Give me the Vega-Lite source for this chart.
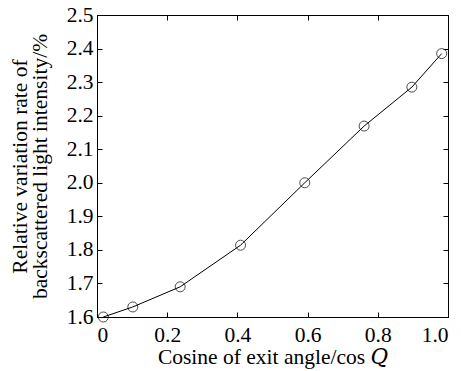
{
  "$schema": "https://vega.github.io/schema/vega-lite/v6.json",
  "width": 351,
  "height": 302,
  "autosize": "none",
  "padding": {"left": 97, "top": 15, "right": 13, "bottom": 54},
  "background": "white",
  "config": {
    "view": {"stroke": "black", "strokeWidth": 1},
    "font": "Liberation Serif",
    "axis": {
      "domainColor": "black",
      "tickColor": "black",
      "labelColor": "black",
      "titleColor": "black",
      "labelFont": "Liberation Serif",
      "titleFont": "Liberation Serif, DejaVu Serif",
      "labelFontSize": 21.5,
      "titleFontSize": 21.5,
      "titleFontWeight": "normal",
      "grid": false,
      "tickSize": -5
    }
  },
  "data": {
    "values": [
      {"cosQ": 0.018, "rate": 1.600},
      {"cosQ": 0.102, "rate": 1.630},
      {"cosQ": 0.237, "rate": 1.690},
      {"cosQ": 0.409, "rate": 1.814},
      {"cosQ": 0.592, "rate": 2.000},
      {"cosQ": 0.761, "rate": 2.169},
      {"cosQ": 0.897, "rate": 2.285},
      {"cosQ": 0.982, "rate": 2.385}
    ]
  },
  "encoding": {
    "x": {
      "field": "cosQ",
      "type": "quantitative",
      "scale": {"domain": [0, 1], "nice": false, "zero": false}
    },
    "y": {
      "field": "rate",
      "type": "quantitative",
      "scale": {"domain": [1.6, 2.5], "nice": false, "zero": false}
    }
  },
  "layer": [
    {
      "mark": {"type": "line", "color": "black", "strokeWidth": 1},
      "encoding": {
        "x": {
          "field": "cosQ",
          "type": "quantitative",
          "axis": {
            "orient": "bottom",
            "values": [0, 0.2, 0.4, 0.6, 0.8, 1.0],
            "labelExpr": "datum.value == 0 ? '0' : format(datum.value, '.1f')",
            "labelPadding": 12,
            "title": "Cosine of exit angle/cos 𝑄",
            "titlePadding": 1
          }
        },
        "y": {
          "field": "rate",
          "type": "quantitative",
          "axis": {
            "orient": "left",
            "values": [1.6, 1.7, 1.8, 1.9, 2.0, 2.1, 2.2, 2.3, 2.4, 2.5],
            "format": ".1f",
            "labelPadding": 9,
            "title": ["Relative variation rate of", "backscattered light intensity/%"],
            "titleLineHeight": 20,
            "titlePadding": 15
          }
        }
      }
    },
    {
      "mark": {"type": "point", "shape": "circle", "filled": false, "color": "black", "strokeWidth": 1, "size": 100},
      "encoding": {
        "x": {
          "field": "cosQ",
          "type": "quantitative",
          "axis": {"orient": "top", "values": [0, 0.2, 0.4, 0.6, 0.8, 1.0], "labels": false, "title": null}
        },
        "y": {
          "field": "rate",
          "type": "quantitative",
          "axis": {"orient": "right", "values": [1.6, 1.7, 1.8, 1.9, 2.0, 2.1, 2.2, 2.3, 2.4, 2.5], "labels": false, "title": null}
        }
      }
    }
  ],
  "resolve": {"axis": {"x": "independent", "y": "independent"}}
}
